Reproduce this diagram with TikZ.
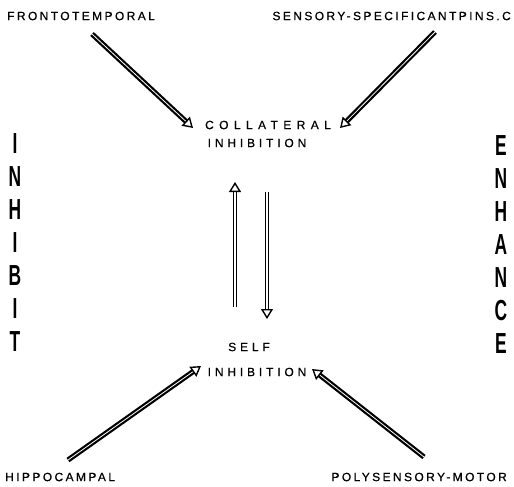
\documentclass[tikz,border=0pt]{standalone}
\usepackage{fontspec}
\setmainfont{Liberation Sans}
\newfontfamily\smallfont[LetterSpace=20,FakeBold=0.6]{Liberation Sans}
\newfontfamily\wideFont[LetterSpace=45,FakeBold=0.6]{Liberation Sans}
\newfontfamily\midFont[LetterSpace=32,FakeBold=0.6]{Liberation Sans}
\usetikzlibrary{arrows.meta}
\tikzset{
  lbl/.style={inner sep=0pt, font=\smallfont\fontsize{12}{14}\selectfont},
  big/.style={inner sep=0pt, font=\bfseries\fontsize{29}{30}\selectfont},
  dbl/.style={double=white, double distance=0.8pt, line width=2.2pt,
    -{Triangle[open, length=10pt, width=12pt, line width=1.4pt]}},
}
\newcommand{\nar}[1]{\scalebox{0.6}[1]{#1}}
\begin{document}
\begin{tikzpicture}[x=1pt,y=-1pt]
\useasboundingbox (0,0) rectangle (514,487);
% labels
\node[lbl, anchor=west] (ft) at (7,16) {FRONTOTEMPORAL};
\node[lbl, anchor=east] (ss) at (511,16) {SENSORY-SPECIFICANTPINS.C};
\node[lbl, anchor=west] (hc) at (5,477) {HIPPOCAMPAL};
\node[lbl, anchor=east] (pm) at (507,477) {POLYSENSORY-MOTOR};
\node[lbl, font=\wideFont\fontsize{12}{14}\selectfont] (col) at (268,125) {COLLATERAL};
\node[lbl, font=\midFont\fontsize{12}{14}\selectfont] (coli) at (257,143) {INHIBITION};
\node[lbl, font=\midFont\fontsize{12}{14}\selectfont] (self) at (249,347) {SELF};
\node[lbl, font=\midFont\fontsize{12}{14}\selectfont] (selfi) at (257,372) {INHIBITION};
% big vertical words
\foreach \l [count=\i from 0] in {I,N,H,I,B,I,T}
  \node[big] (inh\i) at (15,144+33*\i) {\nar{\l}};
\foreach \l [count=\i from 0] in {E,N,H,A,N,C,E}
  \node[big] (enh\i) at (501,146+33*\i) {\nar{\l}};
% arrow endpoints
\coordinate (ftS) at (92,34);
\coordinate (ftE) at (193,128);
\coordinate (ssS) at (435,32);
\coordinate (ssE) at (340,128);
\coordinate (hcS) at (68,460);
\coordinate (hcE) at (201,366);
\coordinate (pmS) at (424,457);
\coordinate (pmE) at (312,369);
\coordinate (upS) at (235,307);
\coordinate (upE) at (235,182);
\coordinate (dnS) at (267,192);
\coordinate (dnE) at (267,319);
\draw[dbl] (ftS) -- (ftE);
\draw[dbl] (ssS) -- (ssE);
\draw[dbl] (hcS) -- (hcE);
\draw[dbl] (pmS) -- (pmE);
\draw[dbl, line width=1.3pt, double distance=1.6pt] (upS) -- (upE);
\draw[dbl, line width=1.3pt, double distance=1.6pt] (dnS) -- (dnE);
\end{tikzpicture}
\end{document}
